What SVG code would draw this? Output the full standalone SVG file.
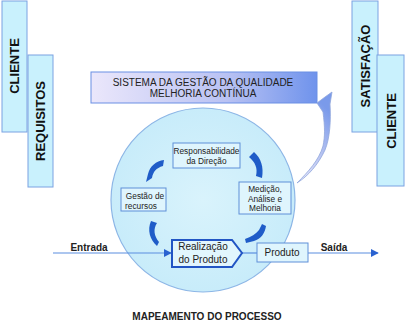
<svg xmlns="http://www.w3.org/2000/svg" width="406" height="329" viewBox="0 0 406 329">
<style>
.side{fill:#c9f1fd;stroke:#7aa2e2;stroke-width:1}
.vt{font-family:"Liberation Sans",Arial,sans-serif;font-weight:bold;font-size:13px;fill:#111;text-anchor:middle}
.box{fill:#dff5fd;stroke:#5f8fd8;stroke-width:1}
.t8{font-family:"Liberation Sans",Arial,sans-serif;font-size:8.3px;fill:#222;text-anchor:middle}
.t10{font-family:"Liberation Sans",Arial,sans-serif;font-size:10px;fill:#222;text-anchor:middle}
.b10{font-family:"Liberation Sans",Arial,sans-serif;font-size:10px;font-weight:bold;fill:#222;text-anchor:middle}
.ln{stroke:#5b8ee0;stroke-width:1.2;fill:none}
.cur{fill:#1f5cc8}
</style>
<defs>
<linearGradient id="ban" x1="0" y1="0" x2="1" y2="0">
<stop offset="0" stop-color="#ebe7fb"/>
<stop offset="0.6" stop-color="#b9c2f3"/>
<stop offset="1" stop-color="#6f93ec"/>
</linearGradient>
<linearGradient id="big" x1="0" y1="1" x2="0.4" y2="0">
<stop offset="0" stop-color="#ecebfb"/>
<stop offset="0.5" stop-color="#b8c4f2"/>
<stop offset="1" stop-color="#7a9aea"/>
</linearGradient>
<radialGradient id="circ" cx="0.5" cy="0.5" r="0.5">
<stop offset="0" stop-color="#d9f3fc"/>
<stop offset="1" stop-color="#c8ecfa"/>
</radialGradient>
<marker id="ah" viewBox="0 0 10 10" refX="9" refY="5" markerWidth="8" markerHeight="8" markerUnits="userSpaceOnUse" orient="auto">
<path d="M0,0 L10,5 L0,10 Z" fill="#2a62d0"/>
</marker>
</defs>

<g id="cliente-left">
<rect class="side" x="2" y="1" width="25" height="131"/>
<text class="vt" transform="translate(19,66) rotate(-90)">CLIENTE</text>
</g>
<g id="requisitos">
<rect class="side" x="28" y="55" width="25" height="132"/>
<text class="vt" transform="translate(45,121) rotate(-90)">REQUISITOS</text>
</g>
<g id="satisfacao">
<rect class="side" x="352" y="1" width="26" height="131"/>
<text class="vt" transform="translate(370,66) rotate(-90)">SATISFAÇÃO</text>
</g>
<g id="cliente-right">
<rect class="side" x="377" y="55" width="27" height="131"/>
<text class="vt" transform="translate(396,121) rotate(-90)">CLIENTE</text>
</g>

<g id="sistema">
<rect x="91" y="72" width="226" height="31" fill="url(#ban)" stroke="#6a8fe4" stroke-width="1"/>
<text class="t10" x="203" y="86">SISTEMA DA GESTÃO DA QUALIDADE</text>
<text class="t10" x="203" y="97">MELHORIA CONTÍNUA</text>
</g>

<g id="ciclo">
<circle cx="203" cy="200" r="92" fill="url(#circ)" stroke="#8db6e6" stroke-width="1.2"/>
</g>

<g id="melhoria-arrow">
<path d="M297,183 C308,172 319,160 323,146 C325,136 325,128 323,112 L317,103 L325,97 L332,92 L330,104 C331,120 330,138 325,150 C318,165 308,176 297,183 Z" fill="url(#big)" stroke="#8fa6dc" stroke-width="0.8"/>
</g>

<g id="connectors">
<line class="ln" x1="53" y1="253" x2="171" y2="253" marker-end="url(#ah)"/>
<line class="ln" x1="242" y1="253" x2="257" y2="253"/>
<line class="ln" x1="308" y1="253" x2="378" y2="253" marker-end="url(#ah)"/>
<path class="cur" d="M164,160 C156,161 150,166 148,174 L146,182 L152,178 C153,172 156,168 163,166 Z"/>
<path class="cur" d="M249,157 L254,152 C261,158 264,167 262,178 L256,176 C258,168 255,162 249,157 Z"/>
<path class="cur" d="M151,221 L157,223 C153,229 154,236 159,242 L157,246 C150,240 147,230 151,221 Z"/>
<path class="cur" d="M262,224 L266,226 C265,233 261,239 254,241 L246,243 L245,239 C251,237 256,234 259,230 Z"/>
</g>

<g id="responsabilidade">
<rect class="box" x="173" y="143" width="67" height="25"/>
<text class="t8" x="206.5" y="154">Responsabilidade</text>
<text class="t8" x="206.5" y="164">da Direção</text>
</g>
<g id="gestao">
<rect class="box" x="121" y="188" width="45" height="23"/>
<text class="t8" x="145" y="199">Gestão de</text>
<text class="t8" x="141" y="209">recursos</text>
</g>
<g id="medicao">
<rect class="box" x="239" y="182" width="52" height="32"/>
<text class="t8" x="265" y="192">Medição,</text>
<text class="t8" x="265" y="202">Análise e</text>
<text class="t8" x="265" y="211">Melhoria</text>
</g>
<g id="realizacao">
<path d="M172,240 L232,240 L242,253 L232,267 L172,267 Z" fill="#e2f6fd" stroke="#2255c4" stroke-width="2"/>
<text class="t10" x="203" y="250">Realização</text>
<text class="t10" x="203" y="263">do Produto</text>
</g>
<g id="produto">
<rect class="box" x="257" y="243" width="51" height="19"/>
<text class="t10" x="282" y="256">Produto</text>
</g>

<text class="b10" x="89" y="251">Entrada</text>
<text class="b10" x="334" y="251">Saída</text>
<text class="b10" x="207" y="320">MAPEAMENTO DO PROCESSO</text>
</svg>
